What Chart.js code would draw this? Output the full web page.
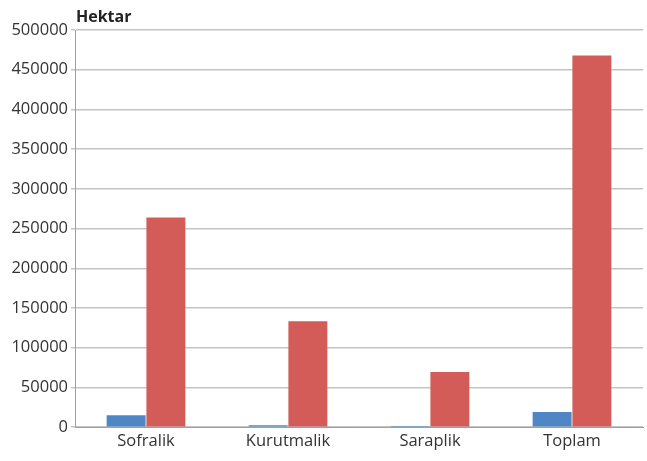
<!DOCTYPE html>
<html>
<head>
<meta charset="utf-8">
<script src="https://cdn.jsdelivr.net/npm/chart.js@4"></script>
<style>
  html, body { margin: 0; padding: 0; background: #fff; }
  #wrap { width: 647px; height: 461px; }
</style>
</head>
<body>
<div id="wrap"><canvas id="chart"></canvas></div>
<script>
const categories = ['Sofralik', 'Kurutmalik', 'Saraplik', 'Toplam'];
const blueValues = [15000, 2500, 1500, 19000];
const redValues = [264000, 133500, 69500, 468000];
const yTicks = [0, 50000, 100000, 150000, 200000, 250000, 300000, 350000, 400000, 450000, 500000];

// unit label above the value axis
const unitLabel = {
    id: 'unitLabel',
    afterDraw(chart) {
        const ctx = chart.ctx;
        ctx.save();
        ctx.font = 'bold 16px "Open Sans", sans-serif';
        ctx.fillStyle = '#222';
        ctx.textBaseline = 'bottom';
        ctx.fillText('Hektar', chart.chartArea.left + 1, chart.chartArea.top - 5);
        ctx.restore();
    }
};

new Chart(document.getElementById('chart'), {
    type: 'bar',
    data: {
        labels: categories,
        datasets: [{
            data: blueValues,
            backgroundColor: '#4f86c6'
        }, {
            data: redValues,
            backgroundColor: '#d35c58'
        }]
    },
    options: {
        responsive: true,
        maintainAspectRatio: false,
        animation: false,
        layout: { padding: { top: 30, right: 4, left: 0, bottom: 6 } },
        categoryPercentage: 0.56,
        barPercentage: 0.98,
        plugins: {
            legend: { display: false },
            tooltip: { enabled: false }
        },
        scales: {
            x: {
                grid: { display: false, drawTicks: false },
                border: { color: '#a0a0a0', width: 1 },
                ticks: {
                    color: '#333',
                    font: { family: '"Open Sans", sans-serif', size: 16.5 },
                    padding: 4
                }
            },
            y: {
                min: 0,
                max: 500000,
                afterFit(scale) { scale.width = 75; },
                afterBuildTicks(scale) { scale.ticks = yTicks.map(v => ({ value: v })); },
                grid: { color: '#c4c4c4', lineWidth: 1.5, drawTicks: true, tickLength: 4 },
                border: { color: '#a0a0a0', width: 1 },
                ticks: {
                    color: '#333',
                    font: { family: '"Open Sans", sans-serif', size: 16.5 },
                    padding: 3,
                    callback: v => String(v)
                }
            }
        }
    },
    plugins: [unitLabel]
});
</script>
</body>
</html>
